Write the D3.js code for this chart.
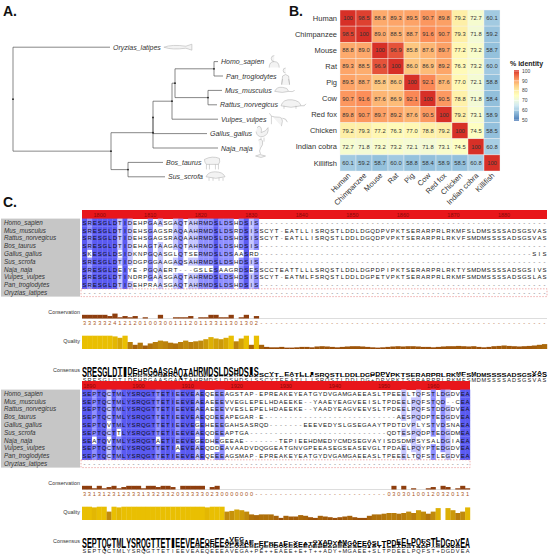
<!DOCTYPE html>
<html>
<head>
<meta charset="utf-8">
<script src="https://cdnjs.cloudflare.com/ajax/libs/d3/7.8.5/d3.min.js"></script>
<style>
  body { margin: 0; background: #fff; }
  svg { display: block; font-family: Arial, "Liberation Sans", sans-serif; }
</style>
</head>
<body>
<script>
// ---------- panel A : tree (branch lengths) ----------
const treeData = {name: "root", len: 0, children: [
  {name: "Oryzias_latipes", len: 97},
  {len: 98, children: [
    {len: 42, children: [
      {len: 0, children: [
        {len: 19, children: [
          {len: 3, children: [
            {len: 39, children: [{name: "Homo_sapien", len: 4}, {name: "Pan_troglodytes", len: 9}]},
            {len: 33, children: [{name: "Mus_musculus", len: 14}, {name: "Rattus_norvegicus", len: 9}]}
          ]},
          {name: "Vulpes_vulpes", len: 46}
        ]},
        {name: "Gallus_gallus", len: 54}
      ]},
      {name: "Naja_naja", len: 65}
    ]},
    {len: 17, children: [{name: "Bos_taurus", len: 35}, {name: "Sus_scrofa", len: 37}]}
  ]}
]};

// ---------- panel B : % identity ----------
const species = ["Human", "Chimpanzee", "Mouse", "Rat", "Pig", "Cow", "Red fox", "Chicken", "Indian cobra", "Killifish"];
const identity = [
  [100, 98.5, 88.8, 89.3, 89.5, 90.7, 89.8, 79.2, 72.7, 60.1],
  [98.5, 100, 89.0, 88.5, 88.7, 91.6, 90.7, 79.3, 71.8, 59.2],
  [88.8, 89.0, 100, 96.9, 85.8, 87.6, 89.7, 77.2, 73.2, 58.7],
  [89.3, 88.5, 96.9, 100, 86.0, 86.9, 89.2, 76.3, 73.2, 60.0],
  [89.5, 88.7, 85.8, 86.0, 100, 92.1, 87.6, 77.0, 72.1, 58.8],
  [90.7, 91.6, 87.6, 86.9, 92.1, 100, 90.5, 78.8, 71.8, 58.4],
  [89.8, 90.7, 89.7, 89.2, 87.6, 90.5, 100, 79.2, 73.1, 58.9],
  [79.2, 79.3, 77.2, 76.3, 77.0, 78.8, 79.2, 100, 74.5, 58.5],
  [72.7, 71.8, 73.2, 73.2, 72.1, 71.8, 73.1, 74.5, 100, 60.8],
  [60.1, 59.2, 58.7, 60.0, 58.8, 58.4, 58.9, 58.5, 60.8, 100]
];
const legendTicks = [50, 60, 70, 80, 90, 100];

// ---------- panel C : alignment ----------
const seqNames = ["Homo_sapien", "Mus_musculus", "Rattus_norvegicus", "Bos_taurus", "Gallus_gallus",
  "Sus_scrofa", "Naja_naja", "Vulpes_vulpes", "Pan_troglodytes", "Oryzias_latipes"];

const block1Seqs = [
  "SRESGLDTIDEHPGAASGAQTAHRMDSLDSHDSIS" + "-".repeat(57),
  "SRESGLDTIDEHSGAGSRAQAAHRMDSLDSRDSISSCYT-EATLLISRQSTLDDLDGQDPVPKTSERARPRLRKMFSLDMSSSSADSGSVAS",
  "SRESGLDTIDEHSGAGSRAQAAHRMDSLDSHDSISSCYT-EATLLISRQSTLDDLDGQDPVPKTSERARPRLRKVFSMDMSSSSADSGSVAS",
  "SRESGLDTIDEHAGTAAGAQTAHRMDSLDSHDSIS" + "-".repeat(57),
  "SKESGLDSIDKNPGQASGLQTSERMDSLDSAASRD" + "-".repeat(54) + "SIS",
  "SRESGLDTIDDGPGGAAGAQSAHRMDSLDSHDSIS" + "-".repeat(57),
  "SRESGLDEIYE-PGQAERT---GSLESAAGRDSESSCCTEATTLLLSRQSTLDDLDGPDPIPKTSERARPRLRKTYSMDMSSSSADSGSIVS",
  "SRESGLDTINDRPGAASGAQTAHRMDSLDSHDSISSCYT-EATMLFSRQSTLDDLDGPETVPKTSERARPRLRKMFSMDMSSSSADSGSLAS",
  "SRESGLDTIDEHPRAASGAQTAHRMDSLDSHDSIS" + "-".repeat(57),
  "-".repeat(92)
];
const block2Seqs = [
  "SEPTQCTMLYSRQGTTETIEEVEAEQEEEAGSTAP-EPREAKEYEATGYDVGAMGAEEASLTPEEELTQFSTLDGDVEA",
  "SEPTQCTMLYSRQGTTETIEEVEAEAEEEVVEGLEPELHDAEEKE--YAAEYEAGVEEISLTPDEELPQFSTQD--CEA",
  "SEPTQCTMLYSRQGTTETIEEVEAEAEEEVVESLEPELHDAEEKE--YAADYEAGVEEVSLTPDEELPQFSTDDGDVEA",
  "SEPTQCTMLYSRQGTTETIEEVEAEQDEEAPEGAR-E" + "-".repeat(27) + "AESPQDPTEDGDVEA",
  "SEPTQVTMLYSRQGTTETIEEVEGEHEEEGAHSASRQD" + "-".repeat(7) + "EEEVEDYSLGSEGAAYTPDTDVPLYSTVDSNAEA",
  "SEPTQCTTLYSRQGTTETIEEVEAEQDEEAPTGA" + "-".repeat(28) + "QDTESPQDPTEDGDMEA",
  "SEATQVTMLYSRQGTAETIEEVEGEDHEGEEAE" + "-".repeat(7) + "TEPIEEHDMEDYCMDSEGVAYISDSDMPSYSALDGIAEA",
  "SEPTQCTMLYSRQGTTETIAEVEAEQDDEAVAADVDQGGEATGNVGPEEASEGSEASEVGLTPDAELPQYPTEDGDVEA",
  "SEPTQCTMLYSRQGTTETIEEVEAEQEEEAGSMAP-EPREAKEYEATGYDVGAMGAEEASLTPEEELTQFSTLEGDVEA",
  "-".repeat(79)
];

const block1Conservation = "33333241212010030011120113311301302" + "-".repeat(57);
const block2Conservation = "33131231233313323320333330230000000" + "-".repeat(27) + "03030100120320131";

const block1Quality = [0.95, 0.95, 0.95, 0.95, 0.95, 0.95, 0.9, 0.8, 0.95, 0.5,
  0.3, 0.45, 0.25, 0.4, 0.5, 0.6, 0.55, 0.45, 0.4, 0.5,
  0.6, 0.5, 0.55, 0.6, 0.7, 0.85, 0.75, 0.7, 0.8, 0.95,
  0.55, 0.75, 0.95, 0.3, 0.95,
  0.3, 0.15, 0.12, 0.12, 0.15, 0.1, 0.1, 0.12, 0.15, 0.15,
  0.12, 0.18, 0.2, 0.18, 0.15, 0.12, 0.15, 0.18, 0.2, 0.2,
  0.18, 0.15, 0.12, 0.1, 0.12, 0.15, 0.18, 0.2, 0.18, 0.2,
  0.2, 0.18, 0.15, 0.15, 0.12, 0.15, 0.18, 0.2, 0.2, 0.22,
  0.2, 0.18, 0.2, 0.15, 0.12, 0.15, 0.2, 0.22, 0.25, 0.22,
  0.2, 0.18, 0.2, 0.22, 0.25, 0.3, 0.35];
const block2Quality = [0.95, 0.95, 0.9, 0.95, 0.95, 0.6, 0.95, 0.9, 0.95, 0.95,
  0.95, 0.95, 0.95, 0.95, 0.95, 0.95, 0.95, 0.95, 0.95, 0.95,
  0.95, 0.95, 0.95, 0.95, 0.95, 0.9, 0.95, 0.95, 0.95, 0.6,
  0.65, 0.75, 0.7, 0.6, 0.4, 0.35, 0.4, 0.4, 0.4, 0.3,
  0.15, 0.3, 0.25, 0.25, 0.35, 0.3, 0.2, 0.15, 0.3, 0.25,
  0.2, 0.15, 0.2, 0.25, 0.3, 0.2, 0.15, 0.15, 0.3, 0.4,
  0.4, 0.45, 0.5, 0.5, 0.45, 0.5, 0.6, 0.5, 0.7, 0.6,
  0.45, 0.6, 0.85, 0.0, 0.85, 0.7, 0.5, 0.6, 0.9];

const block1Consensus = "SRESGLDTIDEHPGAASGAQTAHRMDSLDSHDSISSCYTEEATLLISRQSTLDDLDG+DPVPKTSERARPRLRKMFSMDMSSSSADSGSVAS";
const block2Consensus = "SEPTQCTMLYSRQGTTETIEEVEAEQEEEAVEGA+PE++EAEE+E+T++ADY+MGAEE+SLTPDEELPQFST+DGDVEA";

// ------------------------------------------------
const svg = d3.select("body").append("svg")
  .attr("width", 550)
  .attr("height", 556);

svg.selectAll(".panel-letter")
  .data([["A.", 3, 16], ["B.", 289, 16], ["C.", 3, 207]])
  .join("text")
  .attr("x", d => d[1]).attr("y", d => d[2])
  .attr("font-size", 14).attr("font-weight", "bold").attr("fill", "#111")
  .text(d => d[0]);

// ---------- tree ----------
const root = d3.hierarchy(treeData);
d3.cluster().size([144, 1]).separation(() => 1)(root);
root.each(d => { d.dist = d.parent ? d.parent.dist + d.data.len : 0; });

const tx = d3.scaleLinear().domain([0, 210]).range([13, 223]);
const ty = d3.scaleLinear().domain([0, 144]).range([40, 184]);

const gTree = svg.append("g").attr("stroke", "#555").attr("stroke-width", 0.7);

gTree.selectAll(".hl")
  .data(root.descendants().filter(d => d.parent))
  .join("line")
  .attr("x1", d => tx(d.parent.dist)).attr("x2", d => tx(d.dist))
  .attr("y1", d => ty(d.x)).attr("y2", d => ty(d.x));

gTree.selectAll(".vl")
  .data(root.descendants().filter(d => d.children))
  .join("line")
  .attr("x1", d => tx(d.dist)).attr("x2", d => tx(d.dist))
  .attr("y1", d => ty(d3.min(d.children, c => c.x)))
  .attr("y2", d => ty(d3.max(d.children, c => c.x)));

svg.append("g").selectAll("circle")
  .data(root.descendants().filter(d => d.children))
  .join("circle")
  .attr("cx", d => tx(d.dist)).attr("cy", d => ty(d.x))
  .attr("r", 0.9).attr("fill", "#222");

const leafLabels = svg.append("g").selectAll("text")
  .data(root.leaves())
  .join("text")
  .attr("x", d => tx(d.dist) + 3)
  .attr("y", d => ty(d.x) + 2.5)
  .attr("font-size", 7).attr("font-style", "italic").attr("fill", "#333")
  .text(d => d.data.name);

// little grey sketches next to the leaves
const icons = {
  Oryzias_latipes: "M0,0 q8,-3 22,-1 l6,-2 v6 l-6,-2 q-14,2 -22,-1z",
  Homo_sapien: "M2,6 q0,-6 5,-6 q5,0 5,6 M7,0 a3,3 0 1,1 0.1,-6",
  Pan_troglodytes: "M2,9 l1,-9 q3,-3 6,0 l1,9 M3,3 l-1,5 M9,3 l1,5 M6,-3 a2.5,2.5 0 1,1 0.1,-5",
  Mus_musculus: "M0,1 q2,-5 8,-4 q5,0 6,4 q-6,2 -14,0z M14,1 q4,1 6,-1",
  Rattus_norvegicus: "M0,1 q2,-7 11,-6 q8,1 9,6 q-10,3 -20,0z M20,1 q4,1 5,-2 M3,1 v3 M15,1 v3",
  Vulpes_vulpes: "M0,-6 l2,3 q3,1 8,1 q3,0 3,4 l-1,5 M2,-3 l0,8 M13,-1 q4,0 5,4",
  Gallus_gallus: "M2,-6 q2,-3 4,0 q1,3 0,5 q5,-1 7,-5 q1,7 -5,9 q-6,1 -7,-5 M6,4 v4 M9,4 v4",
  Naja_naja: "M3,-8 q3,-2 4,1 q1,4 -2,7 q-2,3 0,6 M0,8 q4,-3 10,0 q-4,3 -10,0z",
  Bos_taurus: "M0,-3 q8,-4 15,-1 q1,4 -1,6 h-12 q-2,-2 -2,-5z M2,2 v5 M5,2 v5 M11,2 v5 M14,2 v5",
  Sus_scrofa: "M0,0 q2,-5 9,-5 q8,0 10,5 q-9,3 -19,0z M3,1 v3 M7,1 v3 M13,1 v3 M17,1 v3"
};
leafLabels.each(function (d) {
  const x = tx(d.dist) + 3 + this.getComputedTextLength() + 3;
  svg.append("path")
    .attr("d", icons[d.data.name])
    .attr("transform", `translate(${x},${ty(d.x)})`)
    .attr("fill", "#f3f3f3").attr("stroke", "#aaa").attr("stroke-width", 0.5);
});

// ---------- heatmap ----------
const hx = d3.scaleBand().domain(species).range([340, 500]);
const hy = d3.scaleBand().domain(species).range([10, 171]);
const heat = d3.scaleLinear()
  .domain(d3.range(7).map(i => 50 + i * 50 / 6))
  .range(["#4575B4", "#91BFDB", "#E0F3F8", "#FFFFBF", "#FEE090", "#FC8D59", "#D73027"])
  .clamp(true);

const cells = identity.flatMap((row, r) => row.map((v, c) => ({r: species[r], c: species[c], v})));
const gHeat = svg.append("g");
gHeat.selectAll("rect")
  .data(cells)
  .join("rect")
  .attr("x", d => hx(d.c)).attr("y", d => hy(d.r))
  .attr("width", hx.bandwidth()).attr("height", hy.bandwidth())
  .attr("fill", d => heat(d.v))
  .attr("stroke", "#f2f2f2").attr("stroke-width", 0.4);
gHeat.selectAll("text")
  .data(cells)
  .join("text")
  .attr("x", d => hx(d.c) + hx.bandwidth() / 2)
  .attr("y", d => hy(d.r) + hy.bandwidth() / 2 + 2)
  .attr("text-anchor", "middle").attr("font-size", 5.8).attr("fill", "#333")
  .text(d => d.v === 100 ? "100" : d3.format(".1f")(d.v));

svg.append("g").selectAll("text")
  .data(species)
  .join("text")
  .attr("x", 337).attr("y", d => hy(d) + hy.bandwidth() / 2 + 2.6)
  .attr("text-anchor", "end").attr("font-size", 7.5).attr("fill", "#333")
  .text(d => d);

svg.append("g").selectAll("text")
  .data(species)
  .join("text")
  .attr("text-anchor", "end").attr("font-size", 7.5).attr("fill", "#333")
  .attr("transform", d => `translate(${hx(d) + hx.bandwidth() / 2 + 3},${176}) rotate(-45)`)
  .text(d => d);

// legend
const ly = d3.scaleLinear().domain([50, 100]).range([120, 71]);
const defs = svg.append("defs");
const grad = defs.append("linearGradient")
  .attr("id", "heatGrad").attr("x1", 0).attr("x2", 0).attr("y1", 1).attr("y2", 0);
grad.selectAll("stop")
  .data(d3.range(0, 1.0001, 0.1))
  .join("stop")
  .attr("offset", d => d)
  .attr("stop-color", d => heat(50 + d * 50));
svg.append("rect")
  .attr("x", 514).attr("y", ly(100) - 1).attr("width", 5).attr("height", ly(50) - ly(100) + 2)
  .attr("fill", "url(#heatGrad)");
svg.append("g").selectAll("line")
  .data(legendTicks)
  .join("line")
  .attr("x1", 514).attr("x2", 519).attr("y1", d => ly(d)).attr("y2", d => ly(d))
  .attr("stroke", "#fff").attr("stroke-width", 0.5);
svg.append("g").selectAll("text")
  .data(legendTicks)
  .join("text")
  .attr("x", 522).attr("y", d => ly(d) + 1.8)
  .attr("font-size", 5).attr("fill", "#444")
  .text(d => d);
svg.append("text")
  .attr("x", 510).attr("y", 66)
  .attr("font-size", 7).attr("font-weight", "bold").attr("fill", "#222")
  .text("% identity");

// ---------- alignment ----------
const blocks = [
  {start: 1797, seqs: block1Seqs, cons: block1Conservation, quality: block1Quality, consensus: block1Consensus, top: 210, right: 547},
  {start: 1889, seqs: block2Seqs, cons: block2Conservation, quality: block2Quality, consensus: block2Consensus, top: 381, right: 470}
];
const rowStep = 7.8;
const pidColor = f => f >= 0.9 ? "#5a5af2" : f >= 0.8 ? "#8f8fff" : f >= 0.7 ? "#c6c6ff" : null;
const qualityColor = d3.scaleLinear().domain([0, 0.6, 1]).range(["#8d3b07", "#c08a0c", "#efc600"]);

// glyph widths for the logo letters
const measure = svg.append("text").attr("font-size", 10).attr("font-weight", "bold").attr("visibility", "hidden");
const glyphW = {};
const widthOf = c => {
  if (!(c in glyphW)) { measure.text(c); glyphW[c] = measure.node().getComputedTextLength(); }
  return glyphW[c];
};

blocks.forEach(b => {
  const nCols = b.seqs[0].length;
  const T = b.top;
  const xb = d3.scaleBand().domain(d3.range(nCols)).range([82, b.right]);
  const cw = xb.bandwidth();
  const yr = d3.scaleBand().domain(seqNames).range([T + 12.5 - rowStep / 2, T + 12.5 - rowStep / 2 + rowStep * seqNames.length]);
  const g = svg.append("g");

  // column statistics
  const stats = d3.range(nCols).map(i => {
    const res = b.seqs.map(s => s[i]).filter(c => c !== "-");
    const counts = Array.from(d3.rollup(res, v => v.length, c => c), ([c, n]) => ({c, n}))
      .sort((a, z) => z.n - a.n);
    return {top: counts.length ? counts[0].c : "-", frac: counts.length ? counts[0].n / b.seqs.length : 0, counts};
  });

  // ruler
  g.append("rect")
    .attr("x", 82).attr("y", T).attr("width", b.right - 82).attr("height", 9)
    .attr("fill", "#e8161b");
  g.selectAll(".rl")
    .data(d3.range(nCols).filter(i => (b.start + i) % 10 === 0))
    .join("text")
    .attr("x", i => xb(i) + cw / 2).attr("y", T + 6.5)
    .attr("text-anchor", "middle").attr("font-size", 5.5).attr("fill", "#8a0a0a")
    .text(i => b.start + i);

  // name panel
  g.append("rect")
    .attr("x", 1).attr("y", yr.range()[0]).attr("width", 79).attr("height", yr.range()[1] - yr.range()[0])
    .attr("fill", "#c6c6c6");
  g.selectAll(".nm")
    .data(seqNames)
    .join("text")
    .attr("x", 4).attr("y", d => yr(d) + rowStep / 2 + 2.2)
    .attr("font-size", 6.3).attr("font-style", "italic").attr("fill", "#333")
    .text(d => d);

  // residues
  const residues = b.seqs.flatMap((s, k) => s.split("").map((c, i) => ({c, i, name: seqNames[k]})));
  g.selectAll(".pid")
    .data(residues.filter(d => d.c !== "-" && d.c === stats[d.i].top && pidColor(stats[d.i].frac)))
    .join("rect")
    .attr("x", d => xb(d.i)).attr("y", d => yr(d.name))
    .attr("width", cw + 0.2).attr("height", rowStep + 0.2)
    .attr("fill", d => pidColor(stats[d.i].frac));
  g.selectAll(".res")
    .data(residues)
    .join("text")
    .attr("x", d => xb(d.i) + cw / 2).attr("y", d => yr(d.name) + rowStep / 2 + 2.2)
    .attr("text-anchor", "middle").attr("font-size", 6)
    .attr("fill", d => d.c === "-" ? "#666" : "#111")
    .text(d => d.c);

  // selection box round the last sequence
  g.append("rect")
    .attr("x", 81).attr("y", yr(seqNames[9])).attr("width", b.right - 81).attr("height", rowStep)
    .attr("fill", "none").attr("stroke", "#e37b7b").attr("stroke-width", 0.6)
    .attr("stroke-dasharray", "1.5,1.5");

  // annotation labels
  g.selectAll(".al")
    .data([["Conservation", T + 104], ["Quality", T + 133], ["Consensus", T + 162]])
    .join("text")
    .attr("x", 80).attr("y", d => d[1])
    .attr("text-anchor", "end").attr("font-size", 5.4).attr("fill", "#333")
    .text(d => d[0]);

  // conservation
  const consY = d3.scaleLinear().domain([0, 11]).range([T + 108.5, T + 95]);
  g.append("line")
    .attr("x1", 82).attr("x2", b.right).attr("y1", T + 108.5).attr("y2", T + 108.5)
    .attr("stroke", "#bbb").attr("stroke-width", 0.5);
  const consVals = b.cons.split("").map((c, i) => ({c, i, v: c === "-" ? 0 : +c}));
  g.selectAll(".cb")
    .data(consVals.filter(d => d.v > 0))
    .join("rect")
    .attr("x", d => xb(d.i)).attr("y", d => consY(d.v))
    .attr("width", cw + 0.2).attr("height", d => consY(0) - consY(d.v))
    .attr("fill", "#8e3e0e");
  g.selectAll(".cn")
    .data(consVals)
    .join("text")
    .attr("x", d => xb(d.i) + cw / 2).attr("y", T + 115)
    .attr("text-anchor", "middle").attr("font-size", 5.6).attr("fill", "#a8561e")
    .text(d => d.c);

  // quality
  const qY = d3.scaleLinear().domain([0, 1]).range([T + 139, T + 125]);
  g.selectAll(".qb")
    .data(b.quality.map((v, i) => ({v, i})))
    .join("rect")
    .attr("x", d => xb(d.i)).attr("y", d => qY(d.v))
    .attr("width", cw + 0.2).attr("height", d => qY(0) - qY(d.v))
    .attr("fill", d => qualityColor(d.v));

  // consensus logo: stacked letters, height = share of the column
  const logoY = d3.scaleLinear().domain([0, 1]).range([T + 167, T + 156]);
  const logo = [];
  stats.forEach((s, i) => {
    let acc = 0;
    s.counts.slice().reverse().forEach(({c, n}) => {
      const f = n / b.seqs.length;
      logo.push({c, i, y0: acc, y1: acc + f});
      acc += f;
    });
  });
  g.selectAll(".lg")
    .data(logo.filter(d => logoY(d.y0) - logoY(d.y1) > 0.4))
    .join("text")
    .attr("transform", d => `translate(${xb(d.i)},${logoY(d.y0)}) scale(${cw / widthOf(d.c)},${(logoY(d.y0) - logoY(d.y1)) / 7.2})`)
    .attr("font-size", 10).attr("font-weight", "bold").attr("fill", "#000")
    .text(d => d.c);

  // consensus sequence
  g.selectAll(".cs")
    .data(b.consensus.split("").map((c, i) => ({c, i})))
    .join("text")
    .attr("x", d => xb(d.i) + cw / 2).attr("y", T + 172)
    .attr("text-anchor", "middle").attr("font-size", 5.6).attr("fill", "#222")
    .text(d => d.c);
});
measure.remove();
</script>
</body>
</html>
